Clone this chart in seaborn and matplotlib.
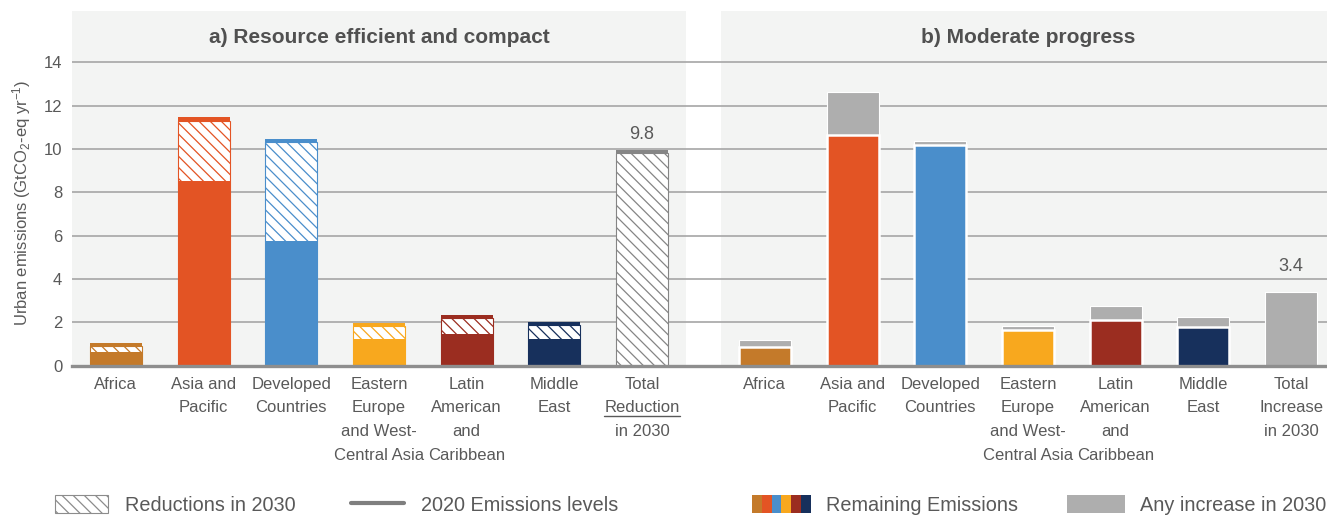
import numpy as np
import pandas as pd
import matplotlib
matplotlib.use('Agg')
import matplotlib.pyplot as plt
from matplotlib.patches import Patch, Rectangle
from matplotlib.lines import Line2D
from matplotlib.legend_handler import HandlerTuple
from matplotlib.transforms import IdentityTransform
import seaborn as sns

# dados (GtCO2-eq/ano)
regioes = ['Africa', 'Asia and Pacific', 'Developed Countries',
           'Eastern Europe and West-Central Asia', 'Latin American and Caribbean', 'Middle East']
cores = ['#C47A2A', '#E35424', '#4A8ECB', '#F8A81E', '#9B2D20', '#17305C']

rotulos_a = ['Africa', 'Asia and\nPacific', 'Developed\nCountries', 'Eastern\nEurope\nand West-\nCentral Asia',
             'Latin\nAmerican\nand\nCaribbean', 'Middle\nEast', 'Total\nReduction\nin 2030']
rotulos_b = rotulos_a[:-1] + ['Total\nIncrease\nin 2030']

# a) Resource efficient and compact
restante_a = [0.65, 8.52, 5.74, 1.22, 1.45, 1.23]
reducao_a = [0.26, 2.78, 4.60, 0.63, 0.77, 0.63]
nivel_2020_a = [1.06, 11.46, 10.45, 1.96, 2.34, 2.02]
reducao_total = 9.8
nivel_2020_total = 9.95

# b) Moderate progress
restante_b = [0.86, 10.65, 10.19, 1.67, 2.13, 1.77]
aumento_b = [0.33, 1.98, 0.18, 0.16, 0.62, 0.48]
aumento_total = 3.4

titulo_a = 'a) Resource efficient and compact'
titulo_b = 'b) Moderate progress'

sns.set_theme(style='white')
plt.rcParams['font.family'] = ['Liberation Sans', 'DejaVu Sans']
plt.rcParams['mathtext.fontset'] = 'custom'
plt.rcParams['mathtext.rm'] = 'Liberation Sans'
plt.rcParams['mathtext.it'] = 'Liberation Sans:italic'
plt.rcParams['hatch.linewidth'] = 0.9
cinza_txt = '#595959'
hachura = '\\\\\\'

grupos = regioes + ['Total']
pal_a = dict(zip(regioes, cores))
pal_a['Total'] = '#858585'

pos_a = np.arange(7)
pos_b = pos_a + 7.4

df_a = pd.DataFrame({
    'pos': pos_a,
    'grupo': grupos,
    'nivel': nivel_2020_a + [nivel_2020_total],
    'reducao_topo': list(np.add(restante_a, reducao_a)) + [reducao_total],
    'restante': restante_a + [0],
})
df_b = pd.DataFrame({
    'pos': pos_b,
    'grupo': grupos,
    'topo': list(np.add(restante_b, aumento_b)) + [aumento_total],
    'restante': restante_b + [0],
})

fig = plt.figure(figsize=(13.27, 5.17), dpi=100)
ax = fig.add_axes([72 / 1327, 1 - 365.7 / 517, 1 - 72 / 1327, (365.7 - 11) / 517])

ax.axvspan(-0.5, 6.5, color='#F3F4F3', zorder=0, lw=0)
ax.axvspan(6.9, 14, color='#F3F4F3', zorder=0, lw=0)

larg = 0.593
comum = dict(x='pos', native_scale=True, width=larg, errorbar=None, saturation=1, ax=ax)

# painel a: linha 2020, reducao hachurada, restante
sns.barplot(data=df_a, y='nivel', hue='grupo', palette=pal_a, legend=False, linewidth=0, **comum)
n0 = len(ax.patches)
sns.barplot(data=df_a, y='reducao_topo', hue='grupo', palette=pal_a, legend=False, linewidth=0.8, **comum)
for p in ax.patches[n0:]:
    p.set_edgecolor(p.get_facecolor())
    p.set_facecolor('white')
    p.set_hatch(hachura)
sns.barplot(data=df_a, y='restante', hue='grupo', palette=pal_a, legend=False, linewidth=0, **comum)

# painel b: aumento cinza, restante colorido
sns.barplot(data=df_b, y='topo', color='#AEAEAE', edgecolor='white', linewidth=0.8, **comum)
sns.barplot(data=df_b, y='restante', hue='grupo', palette=pal_a, legend=False,
            edgecolor='white', linewidth=1.8, **comum)

ax.annotate(f'{reducao_total:.1f}', xy=(pos_a[-1], nivel_2020_total), xytext=(0, 5),
            textcoords='offset points', ha='center', va='bottom', fontsize=13, color=cinza_txt)
ax.annotate(f'{aumento_total:.1f}', xy=(pos_b[-1], aumento_total), xytext=(0, 12),
            textcoords='offset points', ha='center', va='bottom', fontsize=13, color=cinza_txt)

ax.text(3, 15.17, titulo_a, ha='center', va='center', fontsize=15, fontweight='bold', color='#505050')
ax.text(7.4 + 3, 15.17, titulo_b, ha='center', va='center', fontsize=15, fontweight='bold', color='#505050')

ax.set_xlim(-0.5, 13.81)
ax.set_ylim(0, 16.37)
ax.set_yticks(np.arange(0, 15, 2))
ax.set_xticks(np.concatenate([pos_a, pos_b]))
ax.set_xticklabels(rotulos_a + rotulos_b, linespacing=1.72)
ax.set_xlabel('')
ax.set_ylabel(r'Urban emissions (GtCO$_2$-eq yr$^{-1}$)', fontsize=12, color=cinza_txt)
ax.yaxis.set_label_coords(-0.031, 0.46)

ax.grid(axis='y', color='#A5A5A5', lw=1.2)
ax.set_axisbelow(True)
for s in ['top', 'right', 'left']:
    ax.spines[s].set_visible(False)
ax.spines['bottom'].set_color('#8E8E8E')
ax.spines['bottom'].set_linewidth(2.4)
ax.tick_params(axis='both', length=0, labelsize=12, labelcolor=cinza_txt)
ax.tick_params(axis='y', pad=7)
ax.tick_params(axis='x', pad=8)

# legendas
leg1 = fig.legend(
    handles=[Patch(facecolor='white', edgecolor='#8C8C8C', hatch=hachura, lw=0.8),
             Line2D([], [], color='#7F7F7F', lw=3)],
    labels=['Reductions in 2030', '2020 Emissions levels'],
    loc='center left', bbox_to_anchor=(55 / 1327, 1 - 505 / 517), ncol=2, frameon=False,
    fontsize=14.3, labelcolor=cinza_txt, handlelength=2.66, handleheight=1.0,
    handletextpad=0.85, columnspacing=2.8, borderpad=0, borderaxespad=0)

faixas = tuple(Rectangle((0, 0), 1, 1, facecolor=c, lw=0) for c in cores)
leg2 = fig.legend(
    handles=[faixas, Patch(facecolor='#AEAEAE', lw=0)],
    labels=['Remaining Emissions', 'Any increase in 2030'],
    handler_map={tuple: HandlerTuple(ndivide=None, pad=0)},
    loc='center left', bbox_to_anchor=(752 / 1327, 1 - 505 / 517), ncol=2, frameon=False,
    fontsize=14.3, labelcolor=cinza_txt, handlelength=2.96, handleheight=1.0,
    handletextpad=0.75, columnspacing=2.46, borderpad=0, borderaxespad=0)

# sublinhado em "Reduction"
fig.canvas.draw()
r = fig.canvas.get_renderer()
lab = [t for t in ax.get_xticklabels() if t.get_text().startswith('Total\nReduction')][0]
bb = lab.get_window_extent(r)
tmp = ax.text(0, 0, 'Reduction', fontproperties=lab.get_fontproperties())
w = tmp.get_window_extent(r).width
tmp.remove()
yl = bb.y1 - 2 * bb.height / 3 + 2
cx = (bb.x0 + bb.x1) / 2
fig.add_artist(Line2D([cx - w / 2, cx + w / 2], [yl, yl], transform=IdentityTransform(),
                      color=cinza_txt, lw=1))

fig.savefig('out.png', dpi=100)
